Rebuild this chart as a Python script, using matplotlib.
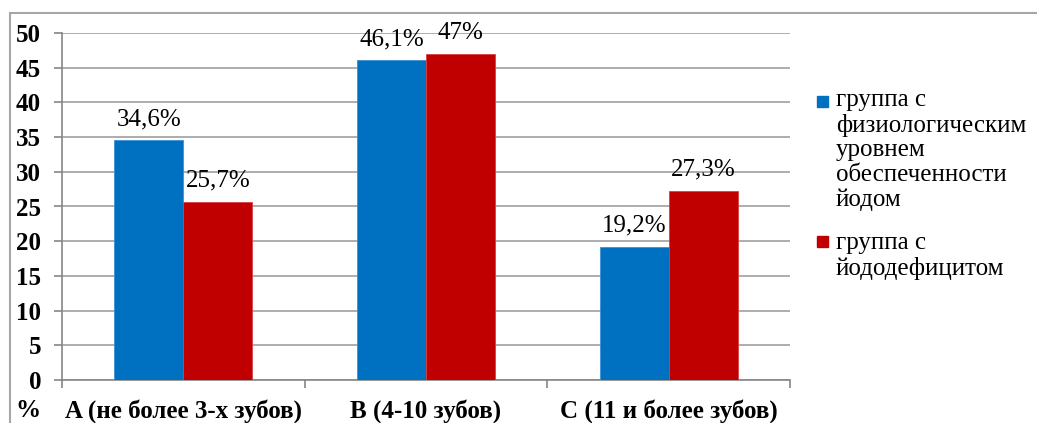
import numpy as np
import matplotlib.pyplot as plt
from matplotlib.patches import Rectangle

plt.rcParams['font.family'] = ['Liberation Serif', 'DejaVu Serif']

categories = ['A (не более 3-х зубов)', 'B (4-10 зубов)', 'C (11 и более зубов)']
physio = [34.6, 46.1, 19.2]
deficit = [25.7, 47.0, 27.3]
physio_labels = ['34,6%', '46,1%', '19,2%']
deficit_labels = ['25,7%', '47%', '27,3%']
legend_physio = 'группа с\nфизиологическим\nуровнем\nобеспеченности\nйодом'
legend_deficit = 'группа с\nйододефицитом'

W, H = 1037, 423
fig = plt.figure(figsize=(W / 100, H / 100), dpi=100)

# рамка вокруг всей диаграммы
fig.patches.append(Rectangle((10 / W, -0.1), 1.2, 1.1 - 13 / H, transform=fig.transFigure,
                             fill=False, edgecolor='#a6a6a6', linewidth=1.5))

ax = fig.add_axes([62 / W, 1 - 380 / H, (790 - 62) / W, (380 - 33) / H])

x = np.arange(len(categories))
w = 0.284
b1 = ax.bar(x - w / 2, physio, w, color='#0070c0', edgecolor='#3a8fd6', linewidth=0.6, zorder=3)
b2 = ax.bar(x + w / 2, deficit, w, color='#c00000', edgecolor='#d84040', linewidth=0.6, zorder=3)

for bars, labels in ((b1, physio_labels), (b2, deficit_labels)):
    for r, t in zip(bars, labels):
        ax.annotate(t, (r.get_x() + r.get_width() / 2, r.get_height()),
                    xytext=(0, 15), textcoords='offset points',
                    ha='center', va='center', fontsize=18)

ax.set_xlim(-0.5, 2.5)
ax.set_ylim(0, 50)
ax.set_yticks(np.arange(0, 51, 5))
ax.yaxis.grid(True, color='#a0a0a0', linewidth=1.2, zorder=0)
ax.set_xticks([-0.5, 0.5, 1.5, 2.5])
ax.set_xticklabels([])
ax.set_xticks(x, minor=True)
ax.set_xticklabels(categories, minor=True, fontsize=18, fontweight='bold')
ax.tick_params(axis='x', which='minor', length=0, pad=14)
ax.tick_params(axis='x', which='major', length=6, color='#868686', width=1.2)
ax.tick_params(axis='y', length=6, color='#868686', width=1.2, pad=9, labelsize=18)
for lbl in ax.get_yticklabels():
    lbl.set_fontweight('bold')

for s in ['top', 'right']:
    ax.spines[s].set_visible(False)
ax.spines['left'].set_color('#868686')
ax.spines['bottom'].set_color('#868686')
ax.spines['left'].set_linewidth(1.2)
ax.spines['bottom'].set_linewidth(1.2)

fig.text(28 / W, 1 - 410 / H, '%', ha='center', va='center', fontsize=18, fontweight='bold')

# легенда
fig.patches.append(Rectangle((817 / W, 1 - 107 / H), 11 / W, 11 / H, transform=fig.transFigure,
                             color='#0070c0'))
fig.patches.append(Rectangle((817 / W, 1 - 247 / H), 11 / W, 11 / H, transform=fig.transFigure,
                             color='#c00000'))
fig.text(836 / W, 1 - 150 / H, legend_physio, ha='left', va='center', fontsize=18, linespacing=1.15)
fig.text(836 / W, 1 - 256 / H, legend_deficit, ha='left', va='center', fontsize=18, linespacing=1.15)

plt.savefig('out.png', dpi=100)
plt.close()
